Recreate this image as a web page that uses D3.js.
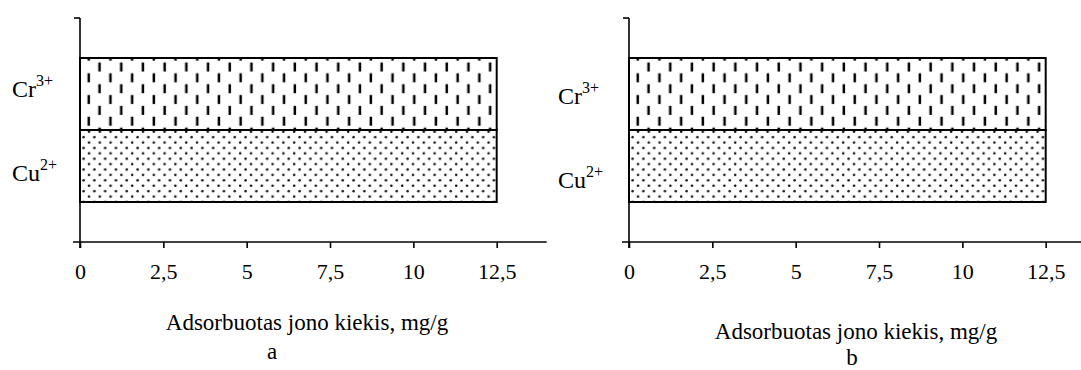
<!DOCTYPE html>
<html>
<head>
<meta charset="utf-8">
<script src="https://cdn.jsdelivr.net/npm/d3@7"></script>
<style>
  body { margin: 0; background: #fff; }
  svg { display: block; font-family: "Liberation Serif", "Times New Roman", serif; }
</style>
</head>
<body>
<svg width="1081" height="370"></svg>
<script>
// duomenys
var ions = ["Cr", "Cu"];
var charges = ["3+", "2+"];
var valuesA = [12.5, 12.5];
var valuesB = [12.5, 12.5];
var xTicks = [0, 2.5, 5, 7.5, 10, 12.5];
var xMax = 14;
var axisTitle = "Adsorbuotas jono kiekis, mg/g";
var panelLetters = ["a", "b"];

var svg = d3.select("svg");
var defs = svg.append("defs");

// paneliu isdestymas
var panels = [
  {id: "a", values: valuesA, left: 80, labelX: 12, labelShift: 0, titleY: 330, titleX: 307, letterX: 272, letterY: 359},
  {id: "b", values: valuesB, left: 629, labelX: 558, labelShift: 7, titleY: 339, titleX: 856, letterX: 852, letterY: 365}
];
var plotTop = 18, plotBottom = 242;

panels.forEach(function(p, pi) {
  var x = d3.scaleLinear().domain([0, xMax]).range([p.left, p.left + 466.7]);
  var y = d3.scaleBand().domain(ions).range([plotTop, plotBottom]).paddingInner(0).paddingOuter(0.5556);

  // raštai
  var dash = defs.append("pattern")
      .attr("id", "dash-" + p.id)
      .attr("patternUnits", "userSpaceOnUse")
      .attr("width", 21.7).attr("height", 21.7)
      .attr("patternTransform", "translate(" + p.left + "," + (y("Cr") + 2.7) + ")");
  dash.append("rect").attr("width", 21.7).attr("height", 21.7).attr("fill", "#fff");
  dash.append("rect").attr("x", 7.5).attr("y", 12.6).attr("width", 2.5).attr("height", 9).attr("fill", "#000");
  dash.append("rect").attr("x", 18.3).attr("y", 1.8).attr("width", 2.5).attr("height", 9).attr("fill", "#000");

  var dots = defs.append("pattern")
      .attr("id", "dots-" + p.id)
      .attr("patternUnits", "userSpaceOnUse")
      .attr("width", 10.8).attr("height", 10.8)
      .attr("patternTransform", "translate(" + p.left + "," + y("Cu") + ")");
  dots.append("rect").attr("width", 10.8).attr("height", 10.8).attr("fill", "#fff");
  dots.append("circle").attr("cx", 9).attr("cy", 1.7).attr("r", 1.3).attr("fill", "#111");
  dots.append("circle").attr("cx", 3.6).attr("cy", 7.1).attr("r", 1.3).attr("fill", "#111");

  var g = svg.append("g").attr("class", "panel-" + p.id);

  // stulpeliai
  g.selectAll(".bar")
    .data(ions.map(function(d, i) { return {ion: d, value: p.values[i]}; }))
    .enter().append("rect")
    .attr("class", "bar")
    .attr("x", x(0))
    .attr("y", function(d) { return y(d.ion); })
    .attr("width", function(d) { return x(d.value) - x(0); })
    .attr("height", y.bandwidth())
    .attr("fill", function(d) { return d.ion === "Cr" ? "url(#dash-" + p.id + ")" : "url(#dots-" + p.id + ")"; })
    .attr("stroke", "#000")
    .attr("stroke-width", 2);

  // x asis
  var ax = g.append("g")
    .attr("transform", "translate(0," + plotBottom + ")")
    .call(d3.axisBottom(x).tickValues(xTicks).tickSize(6).tickPadding(15)
      .tickFormat(function(d) { return String(d).replace(".", ","); }));
  ax.select(".domain").remove();
  ax.selectAll(".tick line").attr("stroke", "#000").attr("stroke-width", 1.6);
  ax.selectAll(".tick text")
    .attr("fill", "#000")
    .style("font-family", "Liberation Serif, Times New Roman, serif")
    .style("font-size", "22px");
  g.append("line")
    .attr("x1", x(0) - 7).attr("x2", x(xMax))
    .attr("y1", plotBottom).attr("y2", plotBottom)
    .attr("stroke", "#000").attr("stroke-width", 1.6);

  // y asis
  g.append("line")
    .attr("x1", x(0)).attr("x2", x(0))
    .attr("y1", plotTop).attr("y2", plotBottom + 6)
    .attr("stroke", "#000").attr("stroke-width", 1.6);
  g.append("line")
    .attr("x1", x(0) - 6).attr("x2", x(0))
    .attr("y1", plotTop).attr("y2", plotTop)
    .attr("stroke", "#000").attr("stroke-width", 1.6);

  // jonu pavadinimai
  var lbl = g.selectAll(".ion")
    .data(ions)
    .enter().append("text")
    .attr("class", "ion")
    .attr("x", p.labelX)
    .attr("y", function(d, i) { return y(d) + y.bandwidth() / 2 + p.labelShift + (i === 0 ? 3 : 15); })
    .style("font-size", "24px");
  lbl.append("tspan").text(function(d) { return d; });
  lbl.append("tspan")
    .attr("dy", -11)
    .style("font-size", "16px")
    .text(function(d, i) { return charges[i]; });

  // asies pavadinimas
  g.append("text")
    .attr("x", p.titleX).attr("y", p.titleY)
    .attr("text-anchor", "middle")
    .style("font-size", "23px")
    .text(axisTitle);
  g.append("text")
    .attr("x", p.letterX).attr("y", p.letterY)
    .attr("text-anchor", "middle")
    .style("font-size", "23px")
    .text(panelLetters[pi]);
});
</script>
</body>
</html>
